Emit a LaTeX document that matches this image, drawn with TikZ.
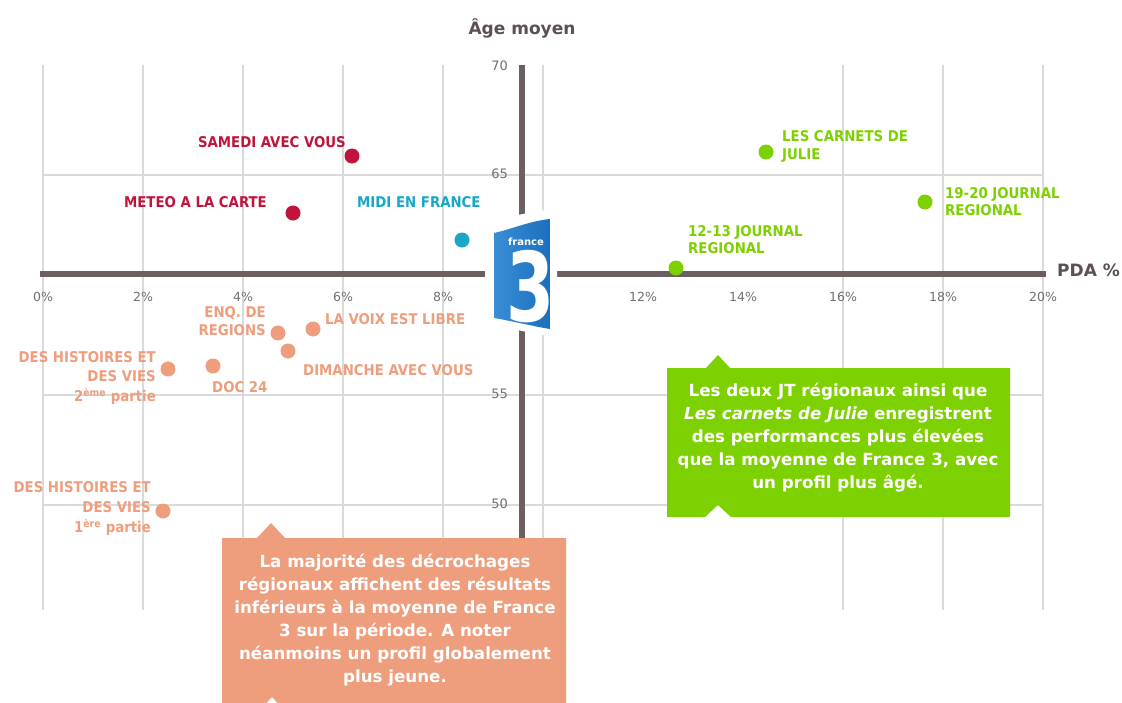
\documentclass[tikz,border=0pt]{standalone}
\usepackage{fontspec}
\setmainfont{DejaVu Sans}
\newfontfamily\condf{DejaVu Sans Condensed}
\definecolor{axisc}{HTML}{6B5F5F}
\definecolor{gridc}{HTML}{DADADA}
\definecolor{tickc}{HTML}{707070}
\definecolor{redc}{HTML}{C0143C}
\definecolor{cyanc}{HTML}{1AA7C7}
\definecolor{greenc}{HTML}{7ED100}
\definecolor{orangec}{HTML}{EE9E7C}
\definecolor{logoblue}{HTML}{1A6FBE}
\definecolor{logolight}{HTML}{3A8ED6}
\tikzset{
  dot/.style={circle, inner sep=0pt, minimum size=15pt, fill=#1},
  lbl/.style={inner sep=0pt, text=#1, font=\condf\bfseries\fontsize{14.8}{17.5}\selectfont},
  tickx/.style={inner sep=0pt, text=tickc, font=\fontsize{12.5}{12.5}\selectfont},
  ticky/.style={inner sep=0pt, anchor=east, text=tickc, font=\fontsize{13}{13}\selectfont},
  boxtxt/.style={inner sep=0pt, align=center, text=white, font=\bfseries\fontsize{16.7}{23}\selectfont},
  gridl/.style={gridc, line width=1.4pt},
  axisl/.style={axisc, line width=6.5pt},
}
\begin{document}
\begin{tikzpicture}[x=1pt,y=-1pt]
\useasboundingbox (0,0) rectangle (1122,702);
\fill[white] (0,0) rectangle (1122,702);
% grid
\foreach \gx in {43,143,243,343,443,543,843,943,1043}
  \draw[gridl] (\gx,65) -- (\gx,610);
\foreach \gy in {175,395,505}
  \draw[gridl] (43,\gy) -- (1043,\gy);
% axes
\draw[axisl] (40,274) -- (1046,274);
\draw[axisl] (522,65) -- (522,620);
% tick labels
\foreach \gx/\t in {43/0,143/2,243/4,343/6,443/8,643/12,743/14,843/16,943/18,1043/20}
  \node[tickx] (tx\t) at (\gx,297) {\t\%};
\foreach \gy/\t in {66/70,174/65,394/55,504/50}
  \node[ticky] (ty\t) at (508,\gy) {\t};
% axis titles
\node[inner sep=0pt, text=axisc!85!black, font=\bfseries\fontsize{17}{17}\selectfont] (ytitle) at (522,28) {Âge moyen};
\node[inner sep=0pt, anchor=west, text=axisc!85!black, font=\bfseries\fontsize{17}{17}\selectfont] (xtitle) at (1057,270) {PDA \%};
% logo
\fill[white] (485,225) .. controls (510,216) and (532,211) .. (557,209) -- (557,337) .. controls (532,334) and (510,328) .. (485,323) -- cycle;
\begin{scope}
\clip (494,233) .. controls (512,229) and (530,221) .. (550,219) -- (550,329) .. controls (532,326) and (512,321) .. (494,318) -- cycle;
\shade[left color=logolight, right color=logoblue] (494,215) rectangle (550,335);
\node[inner sep=0pt, text=white, font=\bfseries\fontsize{10}{10}\selectfont] (logofr) at (526,242) {france};
\node[inner sep=0pt, text=white, font=\bfseries\fontsize{96}{96}\selectfont, xscale=0.72, transform shape] (logo3) at (531,287) {3};
\end{scope}
% data points
\node[dot=redc] (p1) at (352,156) {};
\node[dot=redc] (p2) at (293,213) {};
\node[dot=cyanc] (p3) at (462,240) {};
\node[dot=greenc] (p4) at (766,152) {};
\node[dot=greenc] (p5) at (925,202) {};
\node[dot=greenc] (p6) at (676,268) {};
\node[dot=orangec] (p7) at (278,333) {};
\node[dot=orangec] (p8) at (313,329) {};
\node[dot=orangec] (p9) at (288,351) {};
\node[dot=orangec] (p10) at (213,366) {};
\node[dot=orangec] (p11) at (168,369) {};
\node[dot=orangec] (p12) at (163,511) {};
% labels
\node[lbl=redc, anchor=east] (l1) at (346,142) {SAMEDI AVEC VOUS};
\node[lbl=redc, anchor=east] (l2) at (267,202) {METEO A LA CARTE};
\node[lbl=cyanc, anchor=west] (l3) at (357,202) {MIDI EN FRANCE};
\node[lbl=greenc, anchor=west, align=left] (l4) at (782,146.5) {LES CARNETS DE\\JULIE};
\node[lbl=greenc, anchor=west, align=left] (l5) at (945,201.5) {19-20 JOURNAL\\REGIONAL};
\node[lbl=greenc, anchor=west, align=left] (l6) at (688,239.5) {12-13 JOURNAL\\REGIONAL};
\node[lbl=orangec, anchor=east, align=right] (l7) at (266,321) {ENQ. DE\\REGIONS};
\node[lbl=orangec, anchor=west] (l8) at (325,319) {LA VOIX EST LIBRE};
\node[lbl=orangec, anchor=west] (l9) at (303,370) {DIMANCHE AVEC VOUS};
\node[lbl=orangec, anchor=west] (l10) at (212,387) {DOC 24};
\node[lbl=orangec, anchor=east, align=right, font=\condf\bfseries\fontsize{14.8}{19.5}\selectfont] (l11) at (156,378) {DES HISTOIRES ET\\DES VIES\\2\textsuperscript{ème} partie};
\node[lbl=orangec, anchor=east, align=right, font=\condf\bfseries\fontsize{14.8}{20}\selectfont] (l12) at (151,509) {DES HISTOIRES ET\\DES VIES\\1\textsuperscript{ère} partie};
% green callout
\fill[greenc] (667,368) -- (706,368) -- (718,355) -- (730,368) -- (1010,368) -- (1010,517) -- (731,517) -- (718,505) -- (705,517) -- (667,517) -- cycle;
\node[boxtxt] (gtext) at (838,438) {Les deux JT régionaux ainsi que\\\textit{Les carnets de Julie} enregistrent\\des performances plus élevées\\que la moyenne de France 3, avec\\un profil plus âgé.};
% orange callout
\fill[orangec] (222,538) -- (257,538) -- (271,523) -- (285,538) -- (566,538) -- (566,712) -- (286,712) -- (272,697) -- (258,712) -- (222,712) -- cycle;
\node[boxtxt] (otext) at (395,620) {La majorité des décrochages\\régionaux affichent des résultats\\inférieurs à la moyenne de France\\3 sur la période. A noter\\néanmoins un profil globalement\\plus jeune.};
\end{tikzpicture}
\end{document}
